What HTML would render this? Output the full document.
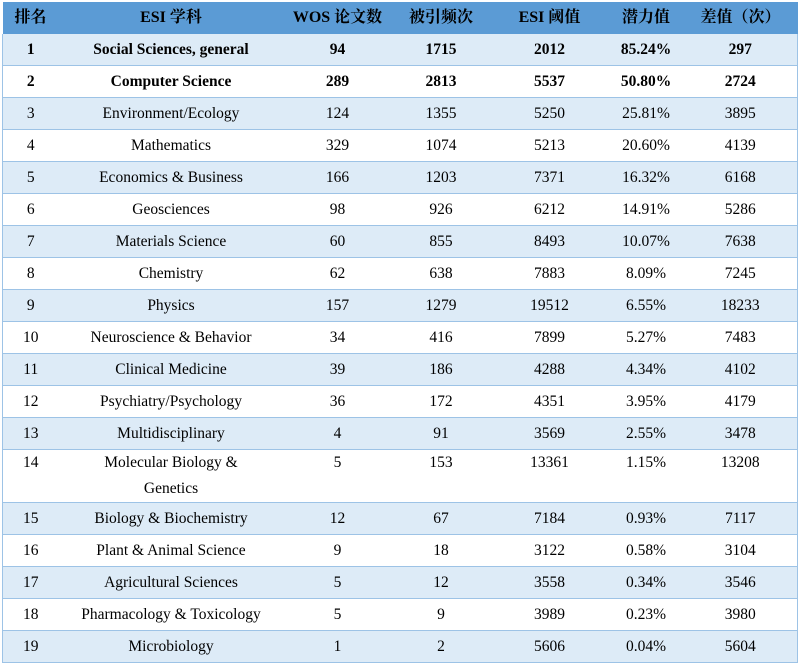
<!DOCTYPE html>
<html><head><meta charset="utf-8"><style>
body{margin:0;background:#fff;width:800px;height:664px;overflow:hidden}
table{position:absolute;left:2px;top:2px;width:795px;border-collapse:collapse;table-layout:fixed;font-family:"Liberation Serif","Noto Serif CJK SC",serif;font-size:15.5px;color:#000}
td,th{text-align:center;padding:0;height:31px;border-bottom:1px solid #9dc3e6;line-height:26px}
th{background:#5b9bd5;font-weight:bold;font-size:16px;border-bottom:none;height:32px}
tr:nth-child(odd) td{background:#ddebf7}
tr.b td{font-weight:bold}
tr.t td{height:49px;vertical-align:top;padding-top:0}
tbody{border-left:1px solid #9dc3e6;border-right:1px solid #9dc3e6}
</style></head><body>
<table>
<colgroup><col style="width:56px"><col style="width:225px"><col style="width:108px"><col style="width:99px"><col style="width:118px"><col style="width:75px"><col style="width:114px"></colgroup>
<thead><tr><th>排名</th><th>ESI 学科</th><th>WOS 论文数</th><th>被引频次</th><th>ESI 阈值</th><th>潜力值</th><th>差值（次）</th></tr></thead>
<tbody>
<tr class="b"><td>1</td><td>Social Sciences, general</td><td>94</td><td>1715</td><td>2012</td><td>85.24%</td><td>297</td></tr>
<tr class="b"><td>2</td><td>Computer Science</td><td>289</td><td>2813</td><td>5537</td><td>50.80%</td><td>2724</td></tr>
<tr><td>3</td><td>Environment/Ecology</td><td>124</td><td>1355</td><td>5250</td><td>25.81%</td><td>3895</td></tr>
<tr><td>4</td><td>Mathematics</td><td>329</td><td>1074</td><td>5213</td><td>20.60%</td><td>4139</td></tr>
<tr><td>5</td><td>Economics &amp; Business</td><td>166</td><td>1203</td><td>7371</td><td>16.32%</td><td>6168</td></tr>
<tr><td>6</td><td>Geosciences</td><td>98</td><td>926</td><td>6212</td><td>14.91%</td><td>5286</td></tr>
<tr><td>7</td><td>Materials Science</td><td>60</td><td>855</td><td>8493</td><td>10.07%</td><td>7638</td></tr>
<tr><td>8</td><td>Chemistry</td><td>62</td><td>638</td><td>7883</td><td>8.09%</td><td>7245</td></tr>
<tr><td>9</td><td>Physics</td><td>157</td><td>1279</td><td>19512</td><td>6.55%</td><td>18233</td></tr>
<tr><td>10</td><td>Neuroscience &amp; Behavior</td><td>34</td><td>416</td><td>7899</td><td>5.27%</td><td>7483</td></tr>
<tr><td>11</td><td>Clinical Medicine</td><td>39</td><td>186</td><td>4288</td><td>4.34%</td><td>4102</td></tr>
<tr><td>12</td><td>Psychiatry/Psychology</td><td>36</td><td>172</td><td>4351</td><td>3.95%</td><td>4179</td></tr>
<tr><td>13</td><td>Multidisciplinary</td><td>4</td><td>91</td><td>3569</td><td>2.55%</td><td>3478</td></tr>
<tr class="t"><td>14</td><td>Molecular Biology &amp;<br>Genetics</td><td>5</td><td>153</td><td>13361</td><td>1.15%</td><td>13208</td></tr>
<tr><td>15</td><td>Biology &amp; Biochemistry</td><td>12</td><td>67</td><td>7184</td><td>0.93%</td><td>7117</td></tr>
<tr><td>16</td><td>Plant &amp; Animal Science</td><td>9</td><td>18</td><td>3122</td><td>0.58%</td><td>3104</td></tr>
<tr><td>17</td><td>Agricultural Sciences</td><td>5</td><td>12</td><td>3558</td><td>0.34%</td><td>3546</td></tr>
<tr><td>18</td><td>Pharmacology &amp; Toxicology</td><td>5</td><td>9</td><td>3989</td><td>0.23%</td><td>3980</td></tr>
<tr><td>19</td><td>Microbiology</td><td>1</td><td>2</td><td>5606</td><td>0.04%</td><td>5604</td></tr>
</tbody></table>
</body></html>
